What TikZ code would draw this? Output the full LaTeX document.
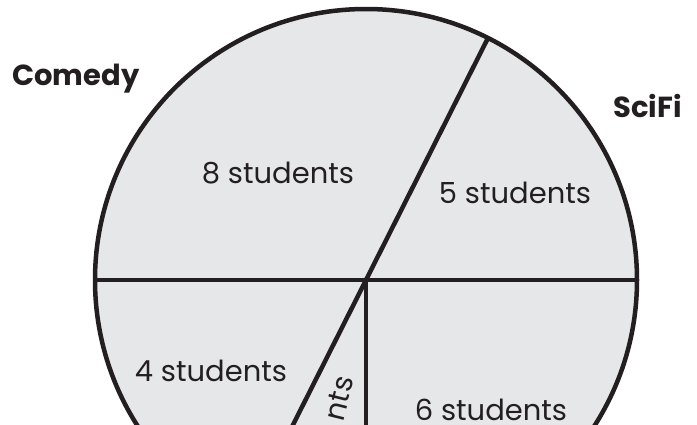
\documentclass[tikz,border=0pt]{standalone}
\usepackage{fontspec}
\setmainfont{Poppins}
\definecolor{pieline}{HTML}{231F20}
\definecolor{piefill}{HTML}{E6E7E9}
\begin{document}
\begin{tikzpicture}[x=1pt,y=-1pt,
  lbl/.style={text=pieline,font=\fontsize{29}{32}\selectfont,inner sep=0pt},
  cat/.style={text=pieline,font=\fontsize{29}{32}\selectfont\bfseries,inner sep=0pt},
  seg/.style={draw=pieline,line width=4.5pt}]
\useasboundingbox (0,0) rectangle (697,424);
\clip (0,0) rectangle (697,424);
\coordinate (c) at (366,280);
\coordinate (tr) at (488,38);
\coordinate (bl) at (244,522);
\coordinate (l) at (95,280);
\coordinate (r) at (637,280);
\coordinate (b) at (366,551);
\draw[seg,fill=piefill] (c) circle[radius=271];
\draw[seg] (tr) -- (bl);
\draw[seg] (l) -- (r);
\draw[seg] (c) -- (b);
\node[cat,anchor=base west] (comedy) at (12,85) {Comedy};
\node[cat,anchor=base west] (scifi) at (613,117) {SciFi};
\node[lbl,anchor=base] (s8) at (278,183) {8 students};
\node[lbl,anchor=base] (s5) at (515,203) {5 students};
\node[lbl,anchor=base] (s4) at (211,381) {4 students};
\node[lbl,anchor=base] (s6) at (491,420) {6 students};
\node[lbl,anchor=base east,rotate=76] (s3) at (354,379) {nts};
\end{tikzpicture}
\end{document}
